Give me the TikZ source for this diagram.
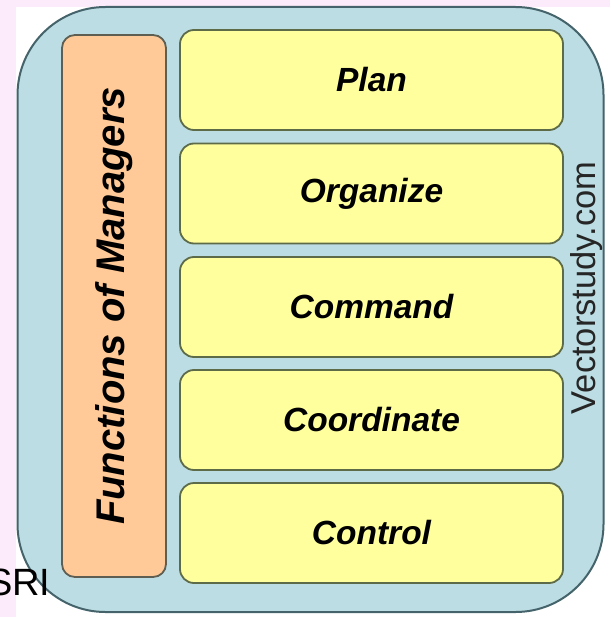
\documentclass[tikz,border=0pt]{standalone}
\usepackage{fontspec}
\setmainfont{Liberation Sans}
\definecolor{pinkbg}{HTML}{FCEBFA}
\definecolor{framefill}{HTML}{BCDDE3}
\definecolor{frameline}{HTML}{45636A}
\definecolor{stepfill}{HTML}{FFFF9E}
\definecolor{stepline}{HTML}{5E6B48}
\definecolor{titlefill}{HTML}{FFCA98}
\definecolor{titleline}{HTML}{5E5E52}
\begin{document}
\begin{tikzpicture}[x=1pt,y=-1pt,
  framebox/.style={draw=frameline, line width=2pt, fill=framefill,
    rounded corners=88pt, minimum width=586pt, minimum height=605pt, inner sep=0pt},
  stepbox/.style={draw=stepline, line width=1.8pt, fill=stepfill,
    rounded corners=14pt, minimum width=383pt, minimum height=100pt, inner sep=0pt,
    font=\fontsize{33.5}{40}\selectfont\bfseries\itshape},
  titlebox/.style={draw=titleline, line width=1.8pt, fill=titlefill,
    rounded corners=13pt, minimum width=542pt, minimum height=104pt, inner sep=0pt,
    rotate=90, font=\fontsize{40}{46}\selectfont\bfseries\itshape},
  sitelabel/.style={rotate=90, anchor=base, inner sep=0pt, text=black!85,
    font=\fontsize{34.5}{40}\selectfont},
  cornerlabel/.style={anchor=base west, inner sep=0pt,
    font=\fontsize{38}{44}\selectfont}]
\useasboundingbox (0,0) rectangle (610,617);
% page strips behind the chart
\fill[pinkbg] (0,0) rectangle (610,7);
\fill[pinkbg] (0,0) rectangle (16,617);
% outer frame
\node[framebox] (frame) at (310.5,309.5) {};
% title column
\node[titlebox] (title) at (114,306) {Functions of Managers};
% the five functions
\node[stepbox] (plan) at (371.5,80) {Plan};
\node[stepbox] (organize) at (371.5,193.5) {Organize};
\node[stepbox] (command) at (371.5,307) {Command};
\node[stepbox] (coordinate) at (371.5,420) {Coordinate};
\node[stepbox] (control) at (371.5,533) {Control};
% side caption
\node[sitelabel] (site) at (595,288) {Vectorstudy.com};
\node[cornerlabel] (sri) at (-13,595) {SRI};
\end{tikzpicture}
\end{document}
